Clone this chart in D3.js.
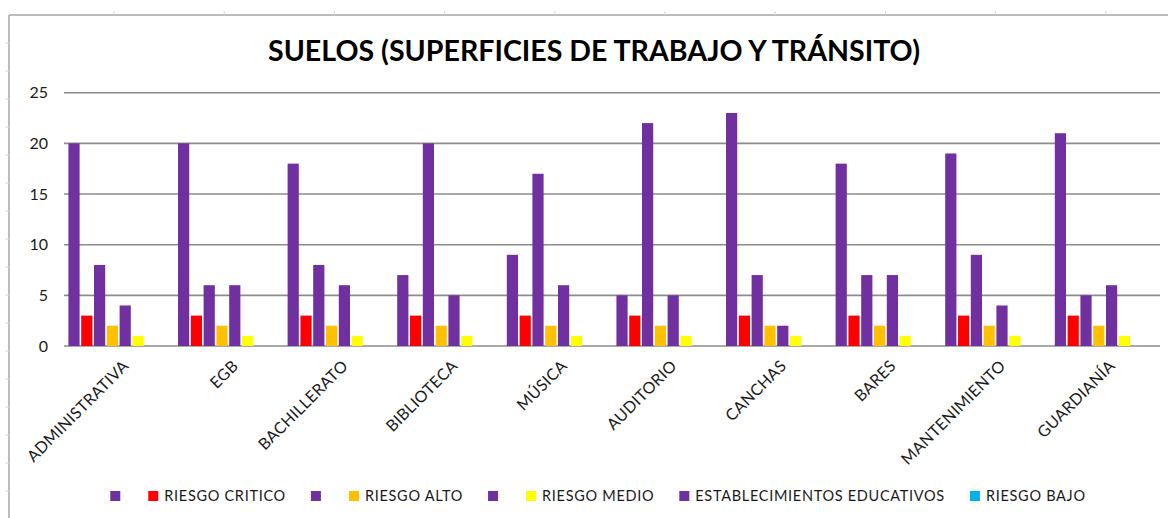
<!DOCTYPE html>
<html>
<head>
<meta charset="utf-8">
<script src="https://d3js.org/d3.v7.min.js"></script>
<style>
  html, body { margin: 0; padding: 0; background: #fff; }
  svg { display: block; }
</style>
</head>
<body>
<svg id="chart" width="1168" height="518"></svg>
<script>
const title = "SUELOS (SUPERFICIES DE TRABAJO Y TRÁNSITO)";
const categories = ["ADMINISTRATIVA", "EGB", "BACHILLERATO", "BIBLIOTECA", "MÚSICA", "AUDITORIO", "CANCHAS", "BARES", "MANTENIMIENTO", "GUARDIANÍA"];
const seriesNames = ["", "RIESGO CRITICO", " ", "RIESGO ALTO", "  ", "RIESGO MEDIO", "ESTABLECIMIENTOS EDUCATIVOS", "RIESGO BAJO"];
const seriesColors = ["#7030A0", "#FF0000", "#7030A0", "#FFC000", "#7030A0", "#FFFF00", "#7030A0", "#00B0F0"];
const purpleA = [20, 20, 18, 7, 9, 5, 23, 18, 19, 21];
const riesgoCritico = [3, 3, 3, 3, 3, 3, 3, 3, 3, 3];
const purpleB = [8, 6, 8, 20, 17, 22, 7, 7, 9, 5];
const riesgoAlto = [2, 2, 2, 2, 2, 2, 2, 2, 2, 2];
const purpleC = [4, 6, 6, 5, 6, 5, 2, 7, 4, 6];
const riesgoMedio = [1, 1, 1, 1, 1, 1, 1, 1, 1, 1];
const establecimientos = [0, 0, 0, 0, 0, 0, 0, 0, 0, 0];
const riesgoBajo = [0, 0, 0, 0, 0, 0, 0, 0, 0, 0];
const yTicks = [0, 5, 10, 15, 20, 25];

const seriesValues = [purpleA, riesgoCritico, purpleB, riesgoAlto, purpleC, riesgoMedio, establecimientos, riesgoBajo];

const svg = d3.select("#chart");
const frameColor = "#a6a6a6";

// spreadsheet frame
svg.append("line").attr("x1", 9).attr("x2", 9).attr("y1", 15).attr("y2", 518)
  .attr("stroke", frameColor).attr("stroke-width", 1.5);
svg.append("line").attr("x1", 9).attr("x2", 1168).attr("y1", 15).attr("y2", 15)
  .attr("stroke", frameColor).attr("stroke-width", 1.5);
for (let y = 43; y < 518; y += 28) {
  svg.append("line").attr("x1", 5).attr("x2", 9).attr("y1", y).attr("y2", y)
    .attr("stroke", "#d9d9d9").attr("stroke-width", 1);
}
for (let x = 114; x < 1168; x += 110.2) {
  svg.append("line").attr("x1", x).attr("x2", x).attr("y1", 11).attr("y2", 15)
    .attr("stroke", "#d9d9d9").attr("stroke-width", 1);
}

// title
svg.append("text")
  .attr("x", 594).attr("y", 61)
  .attr("text-anchor", "middle")
  .attr("font-family", "Lato, 'Open Sans', sans-serif")
  .attr("font-weight", "bold")
  .attr("font-size", 29)
  .attr("textLength", 652)
  .attr("lengthAdjust", "spacingAndGlyphs")
  .attr("fill", "#000")
  .text(title);

const x0 = d3.scaleBand().domain(categories).range([64, 1160]).paddingInner(0.066).paddingOuter(0.033);
const x1 = d3.scaleBand().domain(d3.range(seriesNames.length)).range([0, x0.bandwidth()]);
const y = d3.scaleLinear().domain([0, 25]).range([346, 92.7]);

// gridlines
svg.append("g").selectAll("line").data(yTicks).join("line")
  .attr("x1", 64).attr("x2", 1160)
  .attr("y1", d => y(d)).attr("y2", d => y(d))
  .attr("stroke", "#8c8c8c").attr("stroke-width", 1.6);

// y axis labels
svg.append("g").selectAll("text").data(yTicks).join("text")
  .attr("x", 48).attr("y", d => y(d))
  .attr("dy", "0.36em")
  .attr("text-anchor", "end")
  .attr("font-family", "Lato, sans-serif")
  .attr("font-size", 16)
  .attr("fill", "#1a1a1a")
  .text(d => d);

// bars
const groups = svg.append("g").selectAll("g").data(categories).join("g")
  .attr("transform", d => `translate(${x0(d)},0)`);
groups.selectAll("rect")
  .data((c, ci) => seriesValues.map((vals, si) => ({ si, v: vals[ci] })))
  .join("rect")
  .filter(d => d.v > 0)
  .attr("x", d => x1(d.si) + 0.8)
  .attr("width", x1.bandwidth() - 1.6)
  .attr("y", d => y(d.v))
  .attr("height", d => y(0) - y(d.v))
  .attr("fill", d => seriesColors[d.si]);

// x labels
svg.append("g").selectAll("text").data(categories).join("text")
  .attr("transform", d => `translate(${x0(d) + x0.bandwidth() / 2 + 3},${359}) rotate(-45)`)
  .attr("text-anchor", "end")
  .attr("dy", "0.7em")
  .attr("font-family", "Lato, sans-serif")
  .attr("font-size", 16)
  .attr("letter-spacing", 0.3)
  .attr("fill", "#1a1a1a")
  .text(d => d);

// legend
const legend = svg.append("g");
let cx = 0;
seriesNames.forEach((name, i) => {
  const g = legend.append("g").attr("transform", `translate(${cx},0)`);
  g.append("rect").attr("x", 0).attr("y", -5).attr("width", 10).attr("height", 10).attr("fill", seriesColors[i]);
  let w = 10;
  if (name.trim() !== "") {
    const t = g.append("text").attr("x", 16).attr("y", 0).attr("dy", "0.36em")
      .attr("font-family", "Lato, sans-serif").attr("font-size", 14.5)
      .attr("letter-spacing", 0.7).attr("fill", "#1a1a1a")
      .text(name);
    w = 16 + t.node().getComputedTextLength();
    cx += w + 25;
  } else {
    cx += w + 28;
  }
});
const totalW = cx - 25;
legend.attr("transform", `translate(${598 - totalW / 2},496)`);
</script>
</body>
</html>
